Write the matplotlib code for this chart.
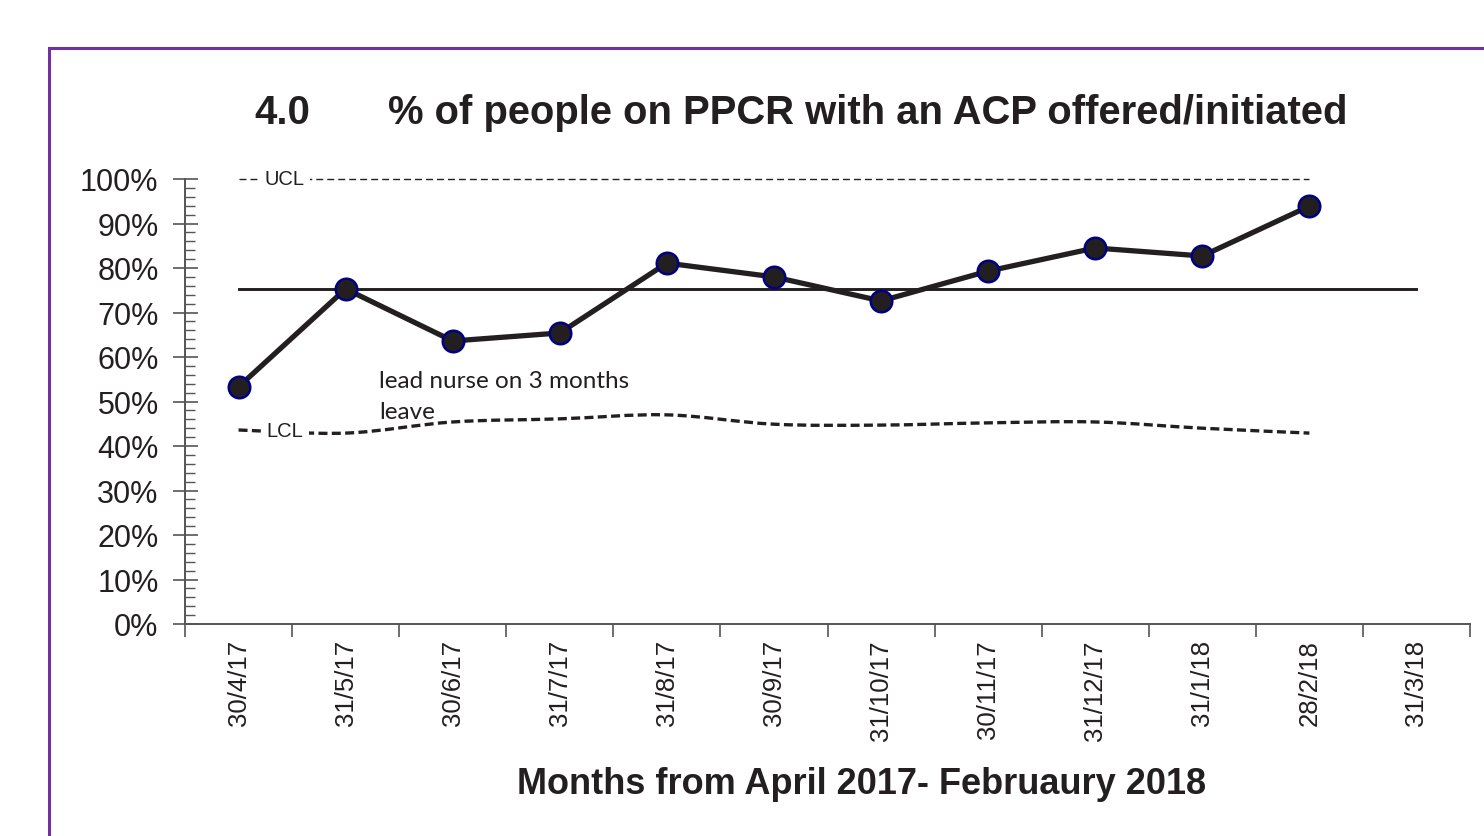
import numpy as np
import matplotlib
matplotlib.use("Agg")
import matplotlib.pyplot as plt
from matplotlib.path import Path
from matplotlib.patches import PathPatch, Rectangle

# data
months = ["30/4/17", "31/5/17", "30/6/17", "31/7/17", "31/8/17", "30/9/17",
          "31/10/17", "30/11/17", "31/12/17", "31/1/18", "28/2/18", "31/3/18"]
pct = [53.3, 75.3, 63.6, 65.4, 81.1, 78.0, 72.6, 79.3, 84.5, 82.7, 93.9]
mean_val = 75.3
ucl = [100.0] * 11
lcl = [43.6, 42.9, 45.4, 46.1, 47.0, 44.9, 44.7, 45.2, 45.4, 44.0, 42.9]

DARK = "#231f20"
plt.rcParams['font.family'] = ['Liberation Sans', 'DejaVu Sans']

fig = plt.figure(figsize=(14.84, 8.37), dpi=100)
W, H = 1484, 837
ax = fig.add_axes([185 / W, 1 - 625 / H, (1470 - 185) / W, (625 - 180) / H])

x = np.arange(len(months)) + 0.5
xd = x[:len(pct)]


def smooth_path(xs, ys):
    # Excel-style smoothed line: cubic bezier segments
    pts = np.column_stack([xs, ys])
    verts = [pts[0]]
    codes = [Path.MOVETO]
    n = len(pts)
    for i in range(n - 1):
        p0 = pts[i - 1] if i > 0 else pts[i]
        p1, p2 = pts[i], pts[i + 1]
        p3 = pts[i + 2] if i + 2 < n else pts[i + 1]
        c1 = p1 + (p2 - p0) / 6.0
        c2 = p2 - (p3 - p1) / 6.0
        verts += [c1, c2, p2]
        codes += [Path.CURVE4] * 3
    return Path(verts, codes)


# UCL
ax.plot(xd, ucl, color=DARK, lw=1.0, dashes=(5, 2.9), clip_on=False, zorder=2)
ax.text(0.93, 100, "UCL", fontsize=14.5, color=DARK, ha="center", va="center",
        bbox=dict(facecolor="white", edgecolor="none", pad=4), zorder=3)

# LCL (smoothed)
ax.add_patch(PathPatch(smooth_path(xd, lcl), facecolor="none", edgecolor=DARK,
                       lw=2.4, linestyle=(0, (2.7, 1.3)), zorder=2))
ax.text(0.93, 43.4, "LCL", fontsize=14.5, color=DARK, ha="center", va="center",
        bbox=dict(facecolor="white", edgecolor="none", pad=4), zorder=3)

# mean
ax.plot([x[0], x[-1]], [mean_val, mean_val], color=DARK, lw=2.1, zorder=3)

# data
ax.plot(xd, pct, color=DARK, lw=3.8, marker="o", markersize=15.5,
        markerfacecolor=DARK, markeredgecolor="#000080", markeredgewidth=1.8,
        zorder=4, clip_on=False)

ax.text(1.81, 53.3, "lead nurse on 3 months", fontsize=17.5, color=DARK,
        family=["Lato", "DejaVu Sans"], ha="left", va="baseline", zorder=5)
ax.text(1.81, 46.3, "leave", fontsize=17.5, color=DARK,
        family=["Lato", "DejaVu Sans"], ha="left", va="baseline", zorder=5)

ax.set_xlim(0, len(months))
ax.set_ylim(0, 100)

ax.set_yticks(np.arange(0, 101, 10))
ax.set_yticklabels([f"{v}%" for v in range(0, 101, 10)], fontsize=22, color=DARK)
ax.set_yticks(np.arange(0, 101, 2), minor=True)
ax.tick_params(axis="y", which="major", direction="inout", length=18, width=1.2,
               color="#555555", pad=10)
ax.tick_params(axis="y", which="minor", direction="in", length=7, width=1.0,
               color="#555555")

ax.set_xticks(np.arange(0, len(months) + 1), minor=True)
ax.set_xticks(x)
ax.set_xticklabels(months, rotation=90, fontsize=18.5, color=DARK)
ax.tick_params(axis="x", which="major", length=0, pad=11)
ax.tick_params(axis="x", which="minor", direction="out", length=9, width=1.2,
               color="#555555")

for s in ["top", "right"]:
    ax.spines[s].set_visible(False)
for s in ["left", "bottom"]:
    ax.spines[s].set_color("#555555")
    ax.spines[s].set_linewidth(1.4)

fig.text(282 / W, 1 - 113 / H, "4.0", fontsize=29, fontweight="bold",
         color=DARK, ha="center", va="center")
fig.text(868 / W, 1 - 113 / H, "% of people on PPCR with an ACP offered/initiated",
         fontsize=28.8, fontweight="bold", color=DARK, ha="center", va="center")
fig.text(862 / W, 1 - 785 / H, "Months from April 2017- Februaury 2018",
         fontsize=26, fontweight="bold", color=DARK, ha="center", va="center")

# purple frame
fig.patches.append(Rectangle((49 / W, -0.1), 1.2, 1 - 49 / H + 0.1,
                             transform=fig.transFigure, facecolor="none",
                             edgecolor="#7030a0", lw=2.2))

fig.savefig("out.png", dpi=100)
